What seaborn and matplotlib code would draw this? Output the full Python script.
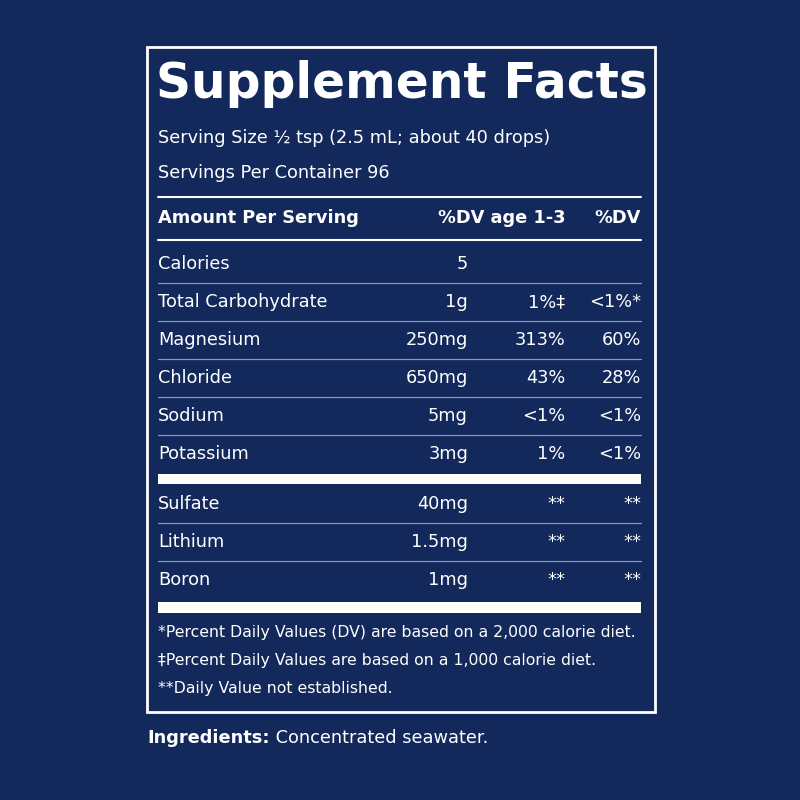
import matplotlib
matplotlib.use("Agg")
import matplotlib.pyplot as plt
import seaborn as sns

sns.set_theme(style="white")
plt.rcParams['font.family'] = ['DejaVu Sans']

BG = "#13295b"
names = ["Calories", "Total Carbohydrate", "Magnesium", "Chloride", "Sodium", "Potassium"]
amounts = ["5", "1g", "250mg", "650mg", "5mg", "3mg"]
dv13 = ["", "1%‡", "313%", "43%", "<1%", "1%"]
dv = ["", "<1%*", "60%", "28%", "<1%", "<1%"]
names2 = ["Sulfate", "Lithium", "Boron"]
amounts2 = ["40mg", "1.5mg", "1mg"]
dv13_2 = ["**", "**", "**"]
dv_2 = ["**", "**", "**"]
footnotes = ["*Percent Daily Values (DV) are based on a 2,000 calorie diet.",
             "‡Percent Daily Values are based on a 1,000 calorie diet.",
             "**Daily Value not established."]

fig = plt.figure(figsize=(8, 8), dpi=100, facecolor=BG)
ax = fig.add_axes([0, 0, 1, 1])
ax.set_facecolor(BG)
ax.set_xlim(0, 800); ax.set_ylim(800, 0); ax.axis("off")

W = "white"; FS = 12.8
ax.add_patch(plt.Rectangle((147, 47), 508, 665, fill=False, ec=W, lw=2))
ax.text(156, 84, "Supplement Facts", color=W, fontsize=35, fontweight="bold", va="center", ha="left")
ax.text(158, 138, "Serving Size ½ tsp (2.5 mL; about 40 drops)", color=W, fontsize=FS, va="center")
ax.text(158, 173, "Servings Per Container 96", color=W, fontsize=FS, va="center")
ax.plot([158, 641], [197, 197], color=W, lw=1.5)
ax.text(158, 218, "Amount Per Serving", color=W, fontsize=FS, fontweight="bold", va="center")
ax.text(565, 218, "%DV age 1-3", color=W, fontsize=FS, fontweight="bold", va="center", ha="right")
ax.text(641, 218, "%DV", color=W, fontsize=FS, fontweight="bold", va="center", ha="right")
ax.plot([158, 641], [240, 240], color=W, lw=1.5)

def rows(ns, am, d1, d2, y0):
    for i, (n, a, p, q) in enumerate(zip(ns, am, d1, d2)):
        y = y0 + i * 38
        ax.text(158, y, n, color=W, fontsize=FS, va="center")
        ax.text(468, y, a, color=W, fontsize=FS, va="center", ha="right")
        ax.text(565, y, p, color=W, fontsize=FS, va="center", ha="right")
        ax.text(641, y, q, color=W, fontsize=FS, va="center", ha="right")
        if i < len(ns) - 1:
            ax.plot([158, 641], [y + 19, y + 19], color="#8797bf", lw=0.9)

rows(names, amounts, dv13, dv, 264)
ax.add_patch(plt.Rectangle((158, 474), 483, 10, color=W, lw=0))
rows(names2, amounts2, dv13_2, dv_2, 504)
ax.add_patch(plt.Rectangle((158, 602), 483, 11, color=W, lw=0))
for i, f in enumerate(footnotes):
    ax.text(158, 633 + i * 27.5, f, color=W, fontsize=11.3, va="center")
t = ax.text(147, 738, "Ingredients:", color=W, fontsize=FS, fontweight="bold", va="center")
ax.annotate(" Concentrated seawater.", xy=(1, 0.5), xycoords=t, color=W, fontsize=FS,
            va="center", ha="left")
fig.savefig("out.png", dpi=100, facecolor=BG)
